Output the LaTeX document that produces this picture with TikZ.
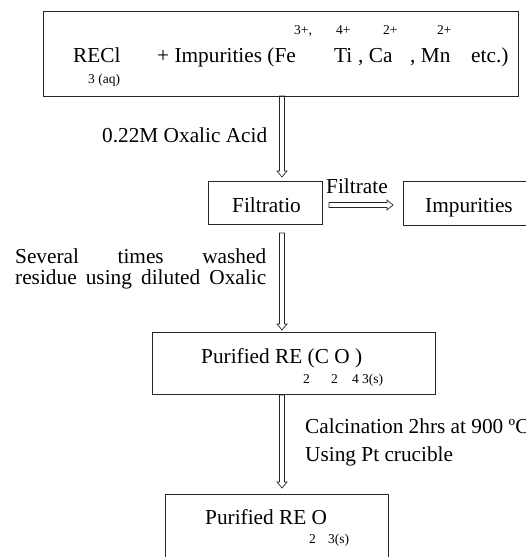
\documentclass[tikz,border=0pt]{standalone}
\usepackage{fontspec}
\setmainfont{Liberation Serif}
\usetikzlibrary{calc}
\newcommand{\bigtxt}{\fontsize{21.3pt}{25pt}\selectfont}
\newcommand{\smalltxt}{\fontsize{13.5pt}{16pt}\selectfont}
\tikzset{
  box/.style={draw=black!85, line width=0.9pt, rectangle, inner sep=0pt},
  txt/.style={anchor=base west, inner sep=0pt, font=\bigtxt},
  sub/.style={anchor=base west, inner sep=0pt, font=\smalltxt},
  harrowv/.style={draw=black!85, line width=0.7pt, to path={
    let \p1=(\tikztostart), \p2=(\tikztotarget) in
    (\x1-2.5pt,\y1) -- (\x1-2.5pt,\y2+6pt) -- (\x1-5pt,\y2+6pt) -- (\x1,\y2)
    -- (\x1+5pt,\y2+6pt) -- (\x1+2.5pt,\y2+6pt) -- (\x1+2.5pt,\y1) -- cycle}},
  harrowh/.style={draw=black!85, line width=0.7pt, to path={
    let \p1=(\tikztostart), \p2=(\tikztotarget) in
    (\x1,\y1-2.5pt) -- (\x2-6pt,\y1-2.5pt) -- (\x2-6pt,\y1-5pt) -- (\x2,\y1)
    -- (\x2-6pt,\y1+5pt) -- (\x2-6pt,\y1+2.5pt) -- (\x1,\y1+2.5pt) -- cycle}}
}
\begin{document}
\begin{tikzpicture}[x=1pt,y=-1pt]
\useasboundingbox (0,0) rectangle (526,557);
\clip (0,0) rectangle (526,557);
% boxes
\node[box, minimum width=475pt, minimum height=85pt] (top) at (280.5,53.5) {};
\node[box, minimum width=114pt, minimum height=43pt] (filt) at (265,202.5) {};
\node[box, minimum width=142pt, minimum height=44pt] (imp) at (474,203) {};
\node[box, minimum width=283pt, minimum height=62pt] (oxal) at (293.5,363) {};
\node[box, minimum width=223pt, minimum height=106pt] (oxide) at (276.5,547) {};
% top text
\node[txt] (t1) at (73,62) {RECl};
\node[sub] (t1s) at (88,83) {3 (aq)};
\node[txt] (t2) at (157,62) {+ Impurities (Fe};
\node[sub] (t2s) at (294,34) {3+,};
\node[txt] (t3) at (334,62) {Ti};
\node[sub] (t3s) at (336,34) {4+};
\node[txt] (t4) at (358,62) {, Ca};
\node[sub] (t4s) at (383,34) {2+};
\node[txt] (t5) at (410,62) {, Mn};
\node[sub] (t5s) at (437,34) {2+};
\node[txt] (t6) at (471,62) {etc.)};
% labels
\node[txt] (acid) at (102,142) {0.22M Oxalic Acid};
\node[txt] (filttxt) at (232,212) {Filtratio};
\node[txt] (filtrate) at (326,193) {Filtrate};
\node[txt] (imptxt) at (425,212) {Impurities};
\node[txt] (wash) at (15,263) {\makebox[251pt][s]{Several times washed}};
\node[txt] (wash2) at (15,284) {\makebox[251pt][s]{residue using diluted Oxalic}};
\node[txt] (oxtxt) at (201,363) {Purified RE (C O )};
\node[sub] (ox1) at (303,383) {2};
\node[sub] (ox2) at (331,383) {2};
\node[sub] (ox3) at (352,383) {4};
\node[sub] (ox4) at (362,383) {3(s)};
\node[txt] (calc1) at (305,433) {Calcination 2hrs at 900 ºC};
\node[txt] (calc2) at (305,461) {Using Pt crucible};
\node[txt] (oxdtxt) at (205,524) {Purified RE O};
\node[sub] (od1) at (309,543) {2};
\node[sub] (od2) at (328,543) {3(s)};
% arrow end points
\coordinate (a1s) at (282,96);
\coordinate (a1e) at (282,177);
\coordinate (a2s) at (282,233);
\coordinate (a2e) at (282,330);
\coordinate (a3s) at (282,395);
\coordinate (a3e) at (282,488);
\coordinate (hs) at (329,205);
\coordinate (he) at (393,205);
\draw[harrowv] (a1s) to (a1e);
\draw[harrowv] (a2s) to (a2e);
\draw[harrowv] (a3s) to (a3e);
\draw[harrowh] (hs) to (he);
\end{tikzpicture}
\end{document}
